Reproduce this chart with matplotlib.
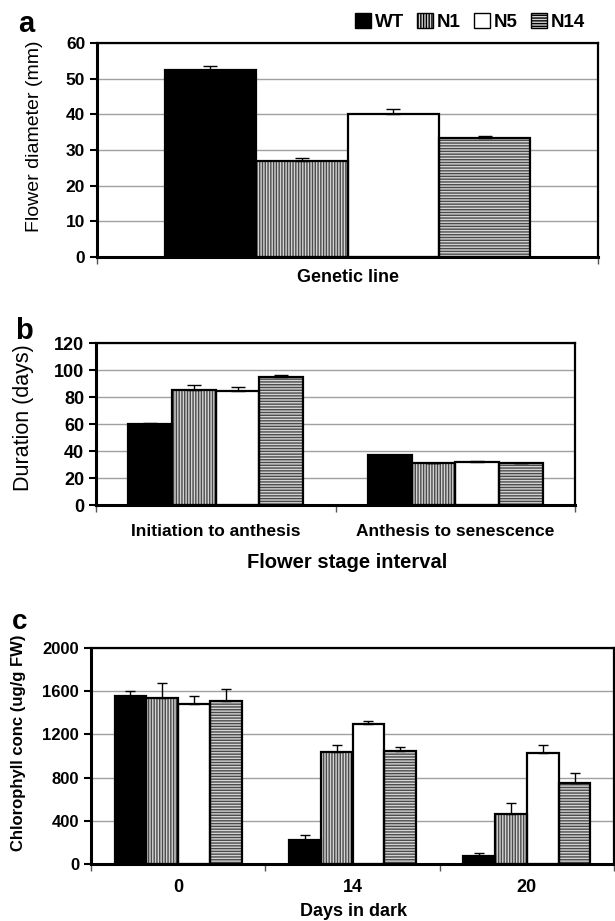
import numpy as np
import matplotlib
matplotlib.use("Agg")
from matplotlib import pyplot as plt
from matplotlib.patches import Patch

# Genetic lines (series)
lines = ["WT", "N1", "N5", "N14"]

# Panel a - flower diameter (mm), single category
diam = [52.3, 26.8, 40.0, 33.5]
diam_err = [1.2, 1.0, 1.4, 0.3]

# Panel b - duration (days) per flower stage interval
intervals = ["Initiation to anthesis", "Anthesis to senescence"]
dur_wt = [60.1, 36.9]
dur_n1 = [85.4, 30.9]
dur_n5 = [84.6, 31.9]
dur_n14 = [94.5, 30.9]
dur_wt_err = [0.3, 0.5]
dur_n1_err = [3.4, 0.5]
dur_n5_err = [2.5, 1.0]
dur_n14_err = [1.5, 0.5]

# Panel c - chlorophyll conc (ug/g FW) per days in dark
days = ["0", "14", "20"]
chl_wt = [1552, 219, 77]
chl_n1 = [1540, 1034, 466]
chl_n5 = [1484, 1299, 1028]
chl_n14 = [1509, 1049, 747]
chl_wt_err = [53, 49, 25]
chl_n1_err = [136, 65, 99]
chl_n5_err = [68, 22, 71]
chl_n14_err = [111, 31, 96]

plt.rcParams["font.family"] = ["Liberation Sans", "DejaVu Sans"]
plt.rcParams["hatch.linewidth"] = 1.0

# Fill styles for each line: (facecolor, hatch, hatch colour)
styles = [
    ("black", None, "black"),
    ("#d4d4d4", "||||||", "#4a4a4a"),
    ("white", None, "white"),
    ("#d4d4d4", "------", "#4a4a4a"),
]

W = 615
H = 921
fig = plt.figure(figsize=(W / 100, H / 100), dpi=100)


def px_axes(left, top, right, bottom):
    return fig.add_axes([left / W, 1 - bottom / H, (right - left) / W, (bottom - top) / H])


def draw_bars(ax, series, errors, width, capsize):
    n = len(series[0])
    xc = np.arange(n)
    for k, (vals, errs) in enumerate(zip(series, errors)):
        x = xc + (k - 1.5) * width
        fc, hatch, hc = styles[k]
        # filled texture first, then outline on top
        ax.bar(x, vals, width=width, color=fc, hatch=hatch, edgecolor=hc,
               linewidth=0, zorder=2)
        ax.bar(x, vals, width=width, fill=False, edgecolor="black",
               linewidth=1.6, zorder=3)
        ax.errorbar(x, vals, yerr=[np.zeros(n), errs], fmt="none",
                    ecolor="black", elinewidth=1, capsize=capsize,
                    capthick=1, zorder=4)
    ax.set_xlim(-0.5, n - 0.5)
    ax.set_xticks(xc)
    ax.set_xticks(np.arange(n + 1) - 0.5, minor=True)
    ax.tick_params(axis="x", which="major", length=0)
    ax.tick_params(axis="x", which="minor", length=5, width=1, color="#555555")
    ax.tick_params(axis="y", length=5, width=1.5, direction="out")
    ax.yaxis.grid(True, color="#a0a0a0", linewidth=1)
    ax.set_axisbelow(True)
    for side in ["left", "bottom"]:
        ax.spines[side].set_linewidth(2.2)
    for side in ["top", "right"]:
        ax.spines[side].set_linewidth(1.6)


# ---------------- Panel a ----------------
ax_a = px_axes(97, 43, 598, 257)
draw_bars(ax_a, [[v] for v in diam], [[e] for e in diam_err], 0.1825, 5)
ax_a.set_ylim(0, 60)
ax_a.set_yticks(range(0, 61, 10))
ax_a.set_xticklabels([""])
for lab in ax_a.get_yticklabels():
    lab.set_fontsize(12.5)
    lab.set_fontweight("bold")
fig.text(35 / W, 1 - 136 / H, "Flower diameter (mm)", rotation=90,
         ha="center", va="center", fontsize=14)
fig.text(348 / W, 1 - 278 / H, "Genetic line", ha="center", va="center",
         fontsize=13, fontweight="bold")
fig.text(26 / W, 1 - 24 / H, "a", ha="center", va="center",
         fontsize=21, fontweight="bold")

handles = [Patch(facecolor=styles[k][0], hatch=styles[k][1],
                 edgecolor="black", linewidth=1) for k in range(4)]
fig.legend(handles, lines, loc="center right",
           bbox_to_anchor=(592 / W, 1 - 22 / H), ncol=4, frameon=False,
           handlelength=0.85, handleheight=0.85, handletextpad=0.2,
           columnspacing=0.7, borderaxespad=0,
           prop={"weight": "bold", "size": 13.5})

# ---------------- Panel b ----------------
ax_b = px_axes(96, 343, 575, 505)
draw_bars(ax_b, [dur_wt, dur_n1, dur_n5, dur_n14],
          [dur_wt_err, dur_n1_err, dur_n5_err, dur_n14_err], 0.1825, 5)
ax_b.set_ylim(0, 120)
ax_b.set_yticks(range(0, 121, 20))
ax_b.set_xticklabels(intervals, fontsize=12.5, fontweight="bold")
ax_b.tick_params(axis="x", which="major", pad=14)
for lab in ax_b.get_yticklabels():
    lab.set_fontsize(13)
    lab.set_fontweight("bold")
fig.text(24 / W, 1 - 418 / H, "Duration (days)", rotation=90,
         ha="center", va="center", fontsize=15.5)
fig.text(347 / W, 1 - 562 / H, "Flower stage interval", ha="center",
         va="center", fontsize=14.5, fontweight="bold")
fig.text(24 / W, 1 - 331 / H, "b", ha="center", va="center",
         fontsize=21, fontweight="bold")

# ---------------- Panel c ----------------
ax_c = px_axes(91, 648, 614, 864)
draw_bars(ax_c, [chl_wt, chl_n1, chl_n5, chl_n14],
          [chl_wt_err, chl_n1_err, chl_n5_err, chl_n14_err], 0.1825, 3.5)
ax_c.set_ylim(0, 2000)
ax_c.set_yticks(range(0, 2001, 400))
ax_c.set_xticklabels(days, fontsize=13, fontweight="bold")
ax_c.tick_params(axis="x", which="major", pad=11)
for lab in ax_c.get_yticklabels():
    lab.set_fontsize(12)
    lab.set_fontweight("bold")
fig.text(19 / W, 1 - 743 / H, "Chlorophyll conc (ug/g FW)", rotation=90,
         ha="center", va="center", fontsize=12, fontweight="bold")
fig.text(354 / W, 1 - 911 / H, "Days in dark", ha="center", va="center",
         fontsize=13, fontweight="bold")
fig.text(20 / W, 1 - 622 / H, "c", ha="center", va="center",
         fontsize=20, fontweight="bold")

fig.savefig("out.png", dpi=100)
plt.close(fig)
